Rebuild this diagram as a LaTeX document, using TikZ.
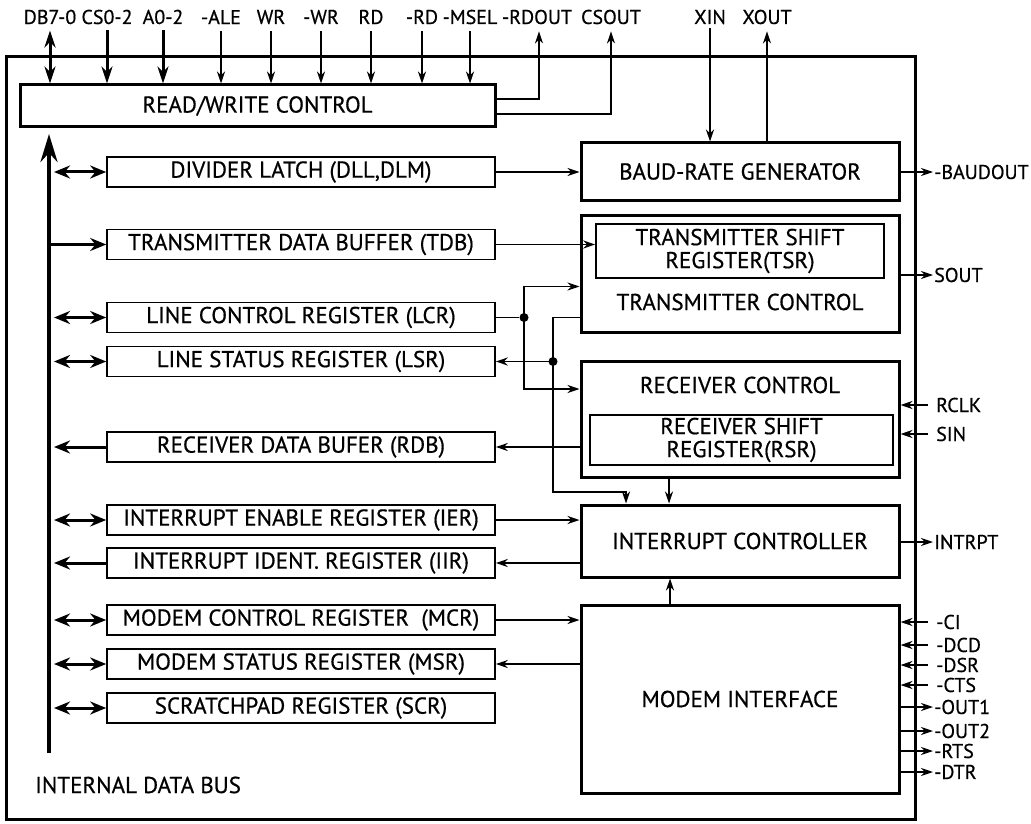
\documentclass[tikz,border=0pt]{standalone}
\usepackage{fontspec}
\setmainfont{PT Sans}[UprightFeatures={FakeBold=0.6}]
\usetikzlibrary{arrows.meta}
\tikzset{>={Stealth[length=12pt,width=8pt]},
    wire/.style={line width=1.5pt},
    heavy/.style={line width=3pt, >={Stealth[length=17pt,width=11pt]}},
    busline/.style={line width=4pt, >={Stealth[length=28pt,width=17pt]}},
    buslink/.style={line width=3pt, >={Stealth[length=16pt,width=13pt]}},
    regbox/.style={draw, line width=1.6pt, minimum width=388pt, minimum height=30pt,
        inner sep=0pt, font=\fontsize{23}{24}\selectfont},
    block/.style={draw, line width=3pt, minimum width=318pt, inner sep=0pt,
        font=\fontsize{23}{24}\selectfont},
    shiftreg/.style={draw, line width=1.6pt, inner sep=0pt, align=center,
        font=\fontsize{23}{23}\selectfont},
    blocklabel/.style={inner sep=1pt, font=\fontsize{23}{24}\selectfont},
    sig/.style={inner sep=1pt, font=\fontsize{20}{21}\selectfont},
    junction/.style={circle, fill, inner sep=0pt, minimum size=9pt}}

\begin{document}
\begin{tikzpicture}[x=1pt,y=-1pt]
    \useasboundingbox (0,0) rectangle (1031,824);
    \node[draw, line width=3pt, minimum width=909pt, minimum height=762pt] (chip) at (460.5,438) {};

    % read/write control and its pins
    \node[draw, line width=3pt, minimum width=475pt, minimum height=42pt,
        font=\fontsize{23}{24}\selectfont] (rw) at (257.5,106) {READ/WRITE CONTROL};
    \node[sig] (db) at (50,17) {DB7-0};
    \node[sig] (cs) at (107,17) {CS0-2};
    \node[sig] (ad) at (163,17) {A0-2};
    \draw[heavy,<->,shorten <=5pt] (db.south) -- (db.south |- rw.north);
    \draw[heavy,->,shorten <=5pt] (cs.south) -- (cs.south |- rw.north);
    \draw[heavy,->,shorten <=5pt] (ad.south) -- (ad.south |- rw.north);
    \foreach \pin/\x in {-ALE/221, WR/271, -WR/321, RD/371, -RD/422, -MSEL/470} {
      \node[sig] (p\x) at (\x,17) {\pin};
      \draw[wire,->,shorten <=6pt] (p\x.south) -- (p\x.south |- rw.north);
    }
    \node[sig] (rdout) at (537,17) {-RDOUT};
    \node[sig] (csout) at (611,17) {CSOUT};
    \draw[wire,->,shorten >=6pt] ([yshift=7pt]rw.east) -| ([xshift=2pt]rdout.south);
    \draw[wire,->,shorten >=6pt] ([yshift=-8pt]rw.east) -| (csout.south);

    % right hand blocks
    \node[block, minimum height=57pt] (brg) at (740,171.5) {BAUD-RATE GENERATOR};
    \node[block, minimum height=117pt] (tc) at (740,273.5) {};
    \node[shiftreg, minimum width=288pt, minimum height=54pt] (tsr) at (740,251)
        {TRANSMITTER SHIFT\\REGISTER(TSR)};
    \node[blocklabel] (tctext) at (740,302) {TRANSMITTER CONTROL};
    \node[block, minimum height=116pt] (rc) at (740,419) {};
    \node[blocklabel] (rctext) at (740,385) {RECEIVER CONTROL};
    \node[shiftreg, minimum width=303pt, minimum height=50pt] (rsr) at (741.5,440)
        {RECEIVER SHIFT\\REGISTER(RSR)};
    \node[block, minimum height=72pt] (intc) at (740,541) {INTERRUPT CONTROLLER};
    \node[block, minimum height=188pt] (mi) at (740,699) {MODEM INTERFACE};

    \node[sig] (xin) at (710,17) {XIN};
    \node[sig] (xout) at (767,17) {XOUT};
    \draw[wire,->,shorten <=3pt] (xin.south) -- (xin.south |- brg.north);
    \draw[wire,->,shorten >=6pt] (xout.south |- brg.north) -- (xout.south);

    % registers on the internal bus
    \foreach \r/\y/\t in {dll/172/{DIVIDER LATCH (DLL,DLM)},
        tdb/244.5/{TRANSMITTER DATA BUFFER (TDB)},
        lcr/317.5/{LINE CONTROL REGISTER (LCR)},
        lsr/361.5/{LINE STATUS REGISTER (LSR)},
        rdb/447/{RECEIVER DATA BUFER (RDB)},
        ier/520/{INTERRUPT ENABLE REGISTER (IER)},
        iir/563/{INTERRUPT IDENT. REGISTER (IIR)},
        mcr/620/{MODEM CONTROL REGISTER\ \ (MCR)},
        msr/664/{MODEM STATUS REGISTER (MSR)},
        scr/708/{SCRATCHPAD REGISTER (SCR)}}
      \node[regbox] (\r) at (301,\y) {\t};

    \coordinate (busfoot) at (49,753);
    \coordinate (bushead) at (49,134);
    \draw[busline,->] (busfoot) -- (bushead);
    \node[blocklabel, anchor=west] (buslabel) at (34,785) {INTERNAL DATA BUS};
    \foreach \r in {dll,lcr,lsr,ier,mcr,msr,scr}
      \draw[buslink,<->,shorten <=5pt] (bushead |- \r) -- (\r.west);
    \draw[buslink,->] (bushead |- tdb) -- (tdb.west);
    \foreach \r in {rdb,iir}
      \draw[buslink,->,shorten >=5pt] (\r.west) -- (bushead |- \r);

    % links between registers and blocks
    \draw[wire,->] (dll.east) -- (dll.east -| brg.west);
    \draw[wire,->] (tdb.east) -- (tdb.east -| tsr.west);
    \node[junction] (lcrdot) at (524,317.5) {};
    \node[junction] (lsrdot) at (553,361.5) {};
    \coordinate (intbend) at (553,492);
    \draw[wire] (lcr.east) -- (lcrdot);
    \draw[wire,->] (lcrdot.center) |- ([yshift=-13pt]tc.west);
    \draw[wire,->] (lcrdot.center) |- ([yshift=30pt]rc.west);
    \draw[wire] ([yshift=-44pt]tc.west) -| (lsrdot.center);
    \draw[wire,->] (lsrdot.center) -- (lsrdot -| lsr.east);
    \draw[wire,->] (lsrdot.center) -- (intbend) -| ([xshift=-114pt]intc.north);
    \draw[wire,->] (rc.west |- rdb) -- (rdb.east);
    \draw[wire,->] ([xshift=-71pt]rc.south) -- ([xshift=-71pt]intc.north);
    \draw[wire,->] (ier.east) -- (ier.east -| intc.west);
    \draw[wire,->] (iir.east -| intc.west) -- (iir.east);
    \draw[wire,->] ([xshift=-70pt]mi.north) -- ([xshift=-70pt]intc.south);
    \draw[wire,->] (mcr.east) -- (mcr.east -| mi.west);
    \draw[wire,->] (msr.east -| mi.west) -- (msr.east);

    % pins on the right
    \node[sig, anchor=west] (baudout) at (933,172) {-BAUDOUT};
    \draw[wire,->] (baudout -| brg.east) -- (baudout.west);
    \node[sig, anchor=west] (sout) at (933,275) {SOUT};
    \draw[wire,->] (sout -| tc.east) -- (sout.west);
    \node[sig, anchor=west] (rclk) at (935,405) {RCLK};
    \node[sig, anchor=west] (sin) at (935,434) {SIN};
    \foreach \p in {rclk,sin}
      \draw[wire,->,shorten <=7pt] (\p.west) -- (\p -| rc.east);
    \node[sig, anchor=west] (intrpt) at (933,542) {INTRPT};
    \draw[wire,->] (intrpt -| intc.east) -- (intrpt.west);
    \foreach \pin/\y in {-CI/622, -DCD/645, -DSR/665, -CTS/685} {
      \node[sig, anchor=west] (m\y) at (935,\y) {\pin};
      \draw[wire,->,shorten <=7pt] (m\y.west) -- (m\y -| mi.east);
    }
    \foreach \pin/\y in {-OUT1/707, -OUT2/731, -RTS/751, -DTR/772} {
      \node[sig, anchor=west] (m\y) at (933,\y) {\pin};
      \draw[wire,->] (m\y -| mi.east) -- (m\y.west);
    }
\end{tikzpicture}
\end{document}
